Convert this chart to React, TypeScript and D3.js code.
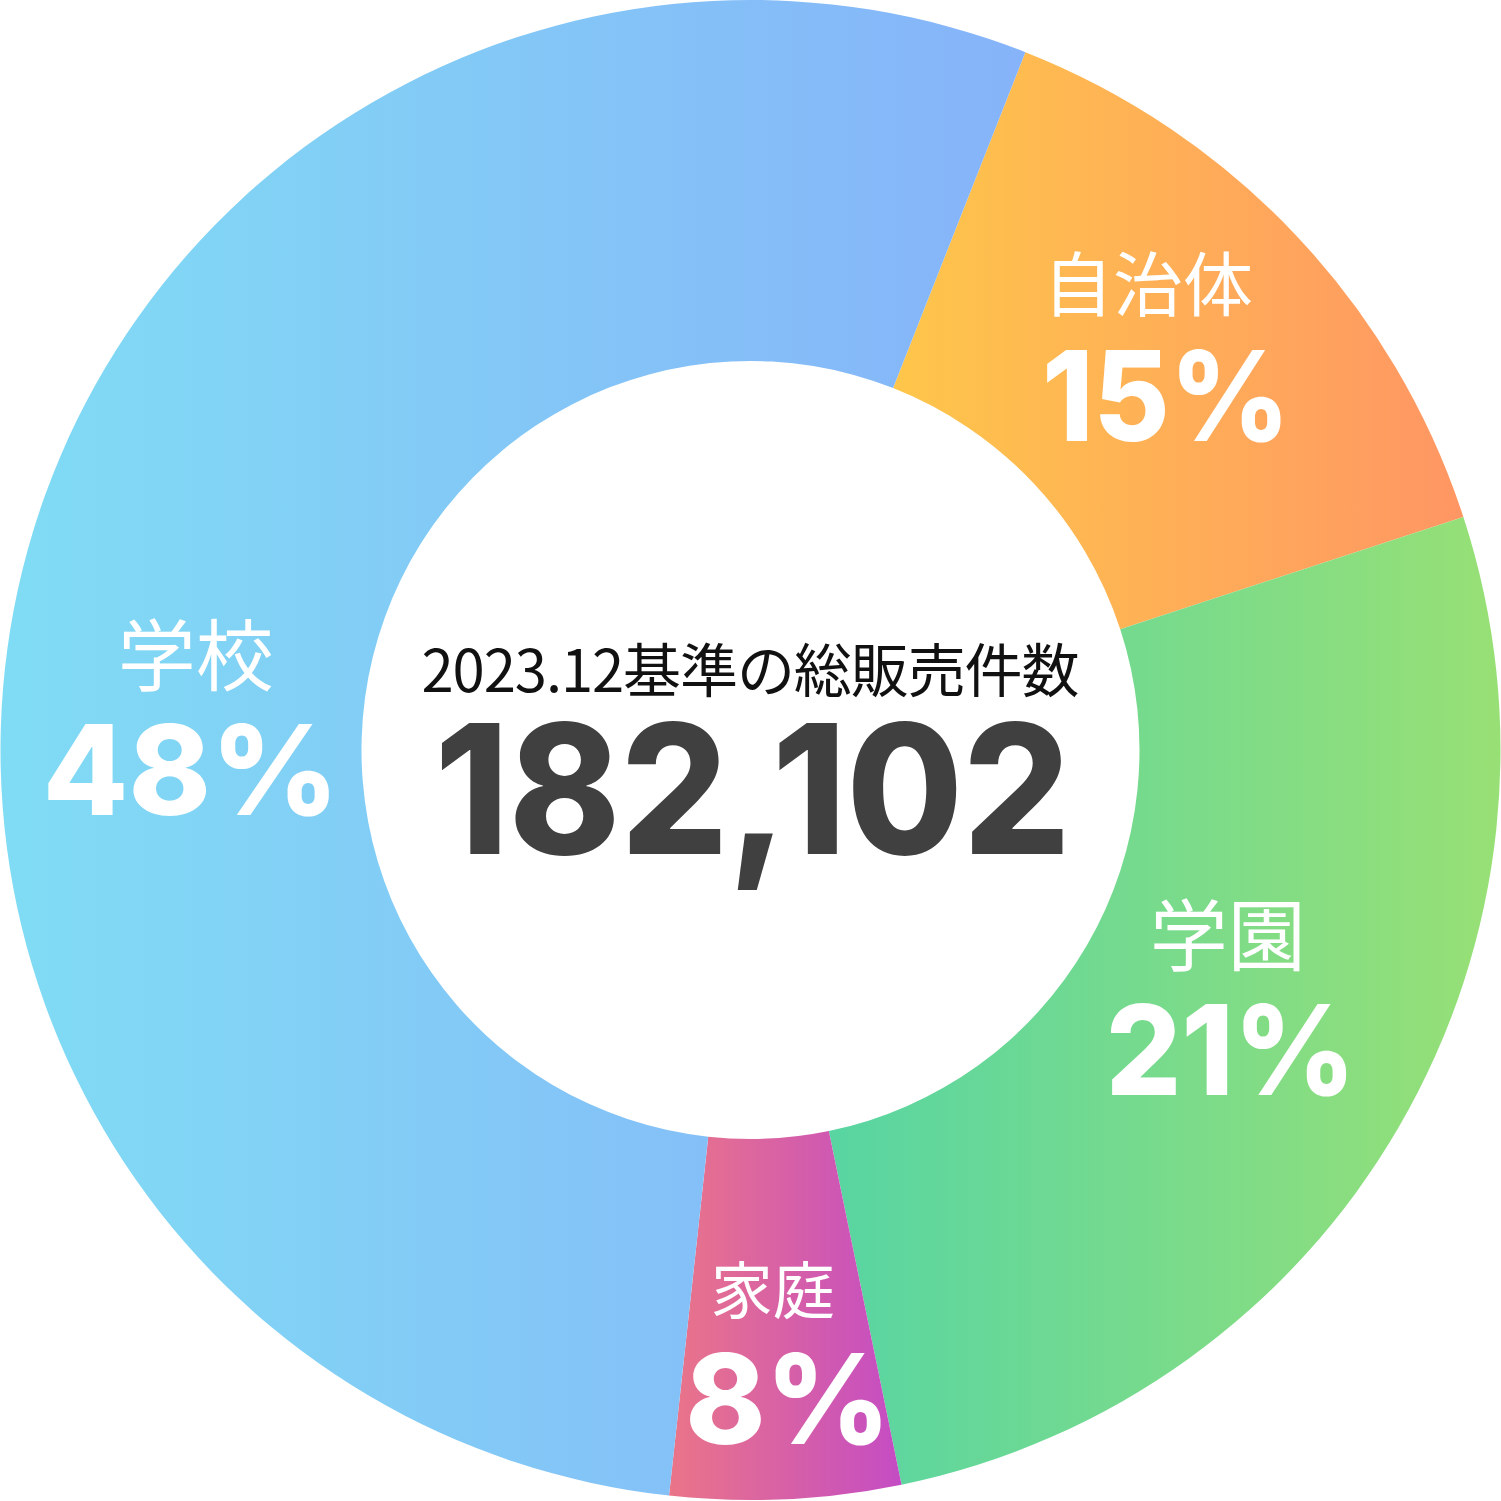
import { useRef, useEffect } from 'react';
import * as d3 from 'd3';

// slice shares as measured from the ring (labels below are the printed figures)
const categories = ['自治体', '学園', '家庭', '学校'];
const shareValues = [14.0, 26.8, 4.96, 54.24];
const percentLabels = ['15%', '21%', '8%', '48%'];
const caption = '2023.12基準の総販売件数';
const totalLabel = '182,102';

// styling
const gradientColors = [
  ['#fec64a', '#ff9664'],
  ['#58d5a2', '#98e075'],
  ['#ea7588', '#c44cc4'],
  ['#80dcf4', '#86b3f9'],
];
const nameSizes = [70, 78, 62, 78];
const percentWidths = [248, 250, 205, 296];
const labelNudge = [[-3, -5], [-6, -16], [1, 55], [-14, 119]];
const nameDx = [-7, -1, -5, 3];
const pctDx = [11, 2, 10, -2];

const App = () => {
  const svgRef = useRef(null);

  useEffect(() => {
    const width = 1501;
    const height = 1501;
    const cx = 750.5;
    const cy = 750;
    const outerR = 750;
    const innerR = 389;
    const start = (21.5 * Math.PI) / 180;

    d3.select(svgRef.current).selectAll('*').remove();

    const svg = d3.select(svgRef.current)
      .attr('width', width)
      .attr('height', height);

    const defs = svg.append('defs');
    gradientColors.forEach((c, i) => {
      const g = defs.append('linearGradient')
        .attr('id', `grad-${i}`)
        .attr('x1', 0).attr('y1', 0)
        .attr('x2', 1).attr('y2', 0);
      g.append('stop').attr('offset', '0%').attr('stop-color', c[0]);
      g.append('stop').attr('offset', '100%').attr('stop-color', c[1]);
    });

    const root = svg.append('g').attr('transform', `translate(${cx},${cy})`);

    const pie = d3.pie<number>()
      .sort(null)
      .value(d => d)
      .startAngle(start)
      .endAngle(start + Math.PI * 2);

    const arcs = pie(shareValues);

    const arc = d3.arc<d3.PieArcDatum<number>>()
      .innerRadius(innerR)
      .outerRadius(outerR);

    const labelArc = d3.arc<d3.PieArcDatum<number>>()
      .innerRadius(560)
      .outerRadius(560);

    root.selectAll('.slice')
      .data(arcs)
      .enter()
      .append('path')
      .attr('class', 'slice')
      .attr('d', arc)
      .attr('fill', (d, i) => `url(#grad-${i})`);

    // slice labels
    arcs.forEach((d, i) => {
      const [px, py] = labelArc.centroid(d);
      const x = px + labelNudge[i][0];
      const y = py + labelNudge[i][1];

      root.append('text')
        .attr('x', x + nameDx[i])
        .attr('y', y - 50)
        .attr('text-anchor', 'middle')
        .attr('fill', '#fff')
        .attr('font-family', '"Noto Sans CJK JP", "Noto Sans", sans-serif')
        .attr('font-size', nameSizes[i])
        .text(categories[i]);

      root.append('text')
        .attr('x', x + pctDx[i])
        .attr('y', y + 80)
        .attr('text-anchor', 'middle')
        .attr('fill', '#fff')
        .attr('font-family', 'Inter, "Noto Sans", sans-serif')
        .attr('font-weight', 800)
        .attr('font-size', 125)
        .attr('textLength', percentWidths[i])
        .attr('lengthAdjust', 'spacingAndGlyphs')
        .text(percentLabels[i]);
    });

    // centre text
    root.append('text')
      .attr('x', 0)
      .attr('y', 692 - cy)
      .attr('text-anchor', 'middle')
      .attr('fill', '#111')
      .attr('font-family', '"Noto Sans CJK JP", sans-serif')
      .attr('font-size', 58)
      .attr('textLength', 658)
      .attr('lengthAdjust', 'spacing')
      .text(caption);

    root.append('text')
      .attr('x', 2)
      .attr('y', 854 - cy)
      .attr('text-anchor', 'middle')
      .attr('fill', '#404040')
      .attr('font-family', 'Inter, "Noto Sans", sans-serif')
      .attr('font-weight', 800)
      .attr('font-size', 180)
      .attr('textLength', 636)
      .attr('lengthAdjust', 'spacingAndGlyphs')
      .text(totalLabel);
  }, []);

  return (
    <svg
      ref={svgRef}
      width={1501}
      height={1501}
      style={{ position: 'absolute', left: 0, top: 0, background: '#fff' }}
    ></svg>
  );
};

export default App;
